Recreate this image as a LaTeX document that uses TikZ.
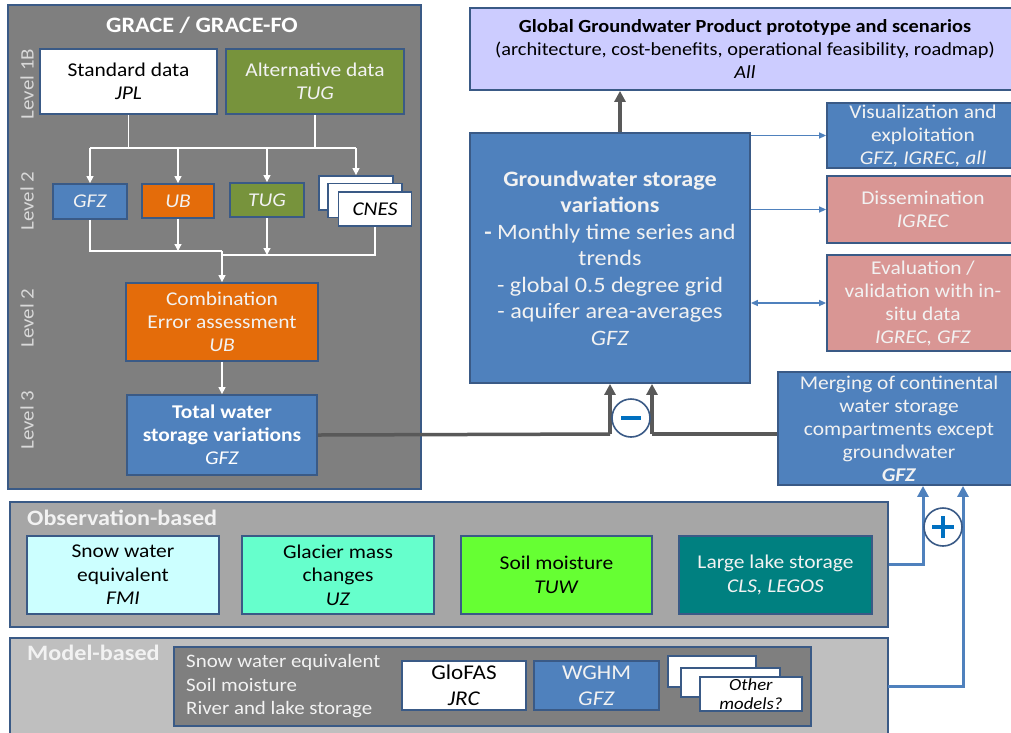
\documentclass[tikz,border=0pt]{standalone}
\usepackage{fontspec}
\setmainfont{Carlito}[FakeStretch=1.1]
\usetikzlibrary{arrows.meta}
\definecolor{bord}{HTML}{3A5A86}
\definecolor{cBlue}{HTML}{4F81BD}
\definecolor{cOrange}{HTML}{E46C0A}
\definecolor{cGreen}{HTML}{77933C}
\definecolor{cPink}{HTML}{D99694}
\definecolor{cLav}{HTML}{CCCCFF}
\definecolor{gDark}{HTML}{7F7F7F}
\definecolor{gMid}{HTML}{A6A6A6}
\definecolor{gLight}{HTML}{BFBFBF}
\definecolor{cCyan}{HTML}{CCFFFF}
\definecolor{cAqua}{HTML}{66FFCC}
\definecolor{cLime}{HTML}{66FF33}
\definecolor{cTeal}{HTML}{008080}
\definecolor{aGray}{HTML}{595959}
\definecolor{cSym}{HTML}{0070C0}
\definecolor{cLvl}{HTML}{D9D9D9}
\definecolor{cTxt}{HTML}{F2F2F2}
\begin{document}
\begin{tikzpicture}[x=1pt,y=-1pt,
  box/.style={draw=bord, line width=1.8pt, align=center, inner sep=0pt,
    font=\fontsize{19.5pt}{23pt}\selectfont},
  panel/.style={draw=bord, line width=1.8pt, inner sep=0pt},
  lvl/.style={rotate=90, text=cLvl, font=\fontsize{19pt}{22pt}\selectfont, inner sep=0pt},
  wline/.style={draw=white, line width=1.3pt},
  warr/.style={wline, -{Triangle[length=7pt,width=7pt]}},
  garr/.style={draw=aGray, line width=3.5pt, -{Triangle[length=11pt,width=11pt]}},
  gline/.style={draw=aGray, line width=3.5pt},
  barr/.style={draw=cBlue, line width=1.4pt, -{Triangle[length=7pt,width=6pt]}},
  bdarr/.style={draw=cBlue, line width=1.4pt, {Triangle[length=7pt,width=6pt]}-{Triangle[length=7pt,width=6pt]}},
  bthick/.style={draw=cBlue, line width=3pt, -{Triangle[length=11pt,width=11pt]}},
  circ/.style={circle, draw=bord, line width=1.6pt, fill=white, minimum size=38pt, inner sep=0pt},
  sym/.style={draw=cSym, line width=4.5pt},
]
\useasboundingbox (0,0) rectangle (1011,732);
\clip (0,0) rectangle (1011,732);
\fill[white] (0,0) rectangle (1011,732);

% ---------- GRACE panel ----------
\node[panel, fill=gDark, minimum width=413pt, minimum height=484pt] (grace) at (214.5,247) {};
\node[text=white, font=\bfseries\fontsize{22pt}{26pt}\selectfont, inner sep=0pt] (gtitle) at (202,25) {GRACE / GRACE-FO};
\node[lvl] (l1) at (27,84) {Level 1B};
\node[lvl] (l2) at (27,201) {Level 2};
\node[lvl] (l3) at (27,318) {Level 2};
\node[lvl] (l4) at (27,420) {Level 3};

\node[box, fill=white, minimum width=177pt, minimum height=65pt] (std) at (128.5,81.5) {Standard data\\\textit{JPL}};
\node[box, fill=cGreen, text=cTxt, minimum width=178pt, minimum height=65pt] (alt) at (315,81.5) {Alternative data\\\textit{TUG}};

\node[box, fill=cBlue, text=cTxt, minimum width=74pt, minimum height=35pt] (gfz) at (90,201.5) {\textit{GFZ}};
\node[box, fill=cOrange, text=cTxt, minimum width=72pt, minimum height=34pt] (ub) at (178,201) {\textit{UB}};
\node[box, fill=cGreen, text=cTxt, minimum width=74pt, minimum height=34pt] (tug) at (267,200) {\textit{TUG}};
\node[box, fill=white, minimum width=74pt, minimum height=34pt] (c1) at (356,193) {};
\node[box, fill=white, minimum width=74pt, minimum height=34pt] (c2) at (365,200.5) {};
\node[box, fill=white, minimum width=73pt, minimum height=34pt] (c3) at (375,209) {\textit{CNES}};

\node[box, fill=cOrange, text=cTxt, minimum width=192pt, minimum height=78pt] (comb) at (222,322) {Combination\\Error assessment\\\textit{UB}};
\node[box, fill=cBlue, text=white, minimum width=190pt, minimum height=80pt] (tws) at (222,435) {\textbf{Total water}\\\textbf{storage variations}\\\textit{GFZ}};

% white connectors
\coordinate (hl) at (90,148);
\coordinate (hr) at (356,148);
\draw[wline] (std.south) -- (std.south |- hl);
\draw[wline] (alt.south) -- (alt.south |- hl);
\draw[wline] (hl) -- (hr);
\draw[warr] (hl) -- (gfz.north);
\draw[warr] (ub.north |- hl) -- (ub.north);
\draw[warr] (tug.north |- hl) -- (tug.north);
\draw[warr] (hr) -- (c1.north);
\coordinate (ml) at (222,251);
\coordinate (mr) at (222,255);
\draw[wline] (gfz.south) -- (gfz.south |- ml) -- (ml);
\draw[wline] (c3.south) -- (c3.south |- mr) -- (mr);
\draw[warr] (ub.south) -- (ub.south |- ml);
\draw[warr] (tug.south) -- (tug.south |- mr);
\draw[warr] (ml) -- (comb.north);
\draw[warr] (comb.south) -- (tws.north);

% ---------- right part ----------
\node[box, fill=cLav, minimum width=550pt, minimum height=82pt, font=\fontsize{18.5pt}{23pt}\selectfont] (global) at (745,49)
  {\textbf{Global Groundwater Product prototype and scenarios}\\(architecture, cost-benefits, operational feasibility, roadmap)\\\textit{All}};
\node[box, fill=cBlue, text=cTxt, minimum width=280pt, minimum height=250pt,
  font=\fontsize{22pt}{26.5pt}\selectfont] (gw) at (610,258)
  {\textbf{Groundwater storage}\\\textbf{variations}\\\textbf{-} Monthly time series and\\trends\\- global 0.5 degree grid\\- aquifer area-averages\\\textit{GFZ}};
\node[box, fill=cBlue, text=cTxt, minimum width=192pt, minimum height=65pt] (vis) at (923,135.5) {Visualization and\\exploitation\\\textit{GFZ, IGREC, all}};
\node[box, fill=cPink, text=cTxt, minimum width=192pt, minimum height=67pt] (dis) at (923,209.5) {Dissemination\\\textit{IGREC}};
\node[box, fill=cPink, text=cTxt, minimum width=192pt, minimum height=96pt] (eval) at (923,303) {Evaluation /\\validation with in-\\situ data\\\textit{IGREC, GFZ}};
\node[box, fill=cBlue, text=cTxt, minimum width=242pt, minimum height=113pt] (merge) at (899,428.5) {Merging of continental\\water storage\\compartments except\\groundwater\\\textbf{\textit{GFZ}}};

\draw[garr] ([xshift=10pt]gw.north) -- ([xshift=10pt]gw.north |- global.south);
\draw[barr] (gw.east |- vis.west) -- (vis.west);
\draw[barr] (gw.east |- dis.west) -- (dis.west);
\draw[bdarr] (gw.east |- eval.west) -- (eval.west);

\coordinate (ga) at (610,434);
\coordinate (gb) at (652,434);
\draw[gline] (tws.east) -- (ga);
\draw[garr] (ga) -- (ga |- gw.south);
\draw[gline] ([yshift=-5.5pt]merge.west) -- (gb);
\draw[garr] (gb) -- (gb |- gw.south);
\node[circ] (minus) at (631,418) {};
\draw[sym] ([xshift=-10pt]minus.center) -- ([xshift=10pt]minus.center);

% ---------- observation-based ----------
\node[panel, fill=gMid, minimum width=878pt, minimum height=125pt] (obs) at (449,564.5) {};
\node[anchor=west, text=cTxt, font=\bfseries\fontsize{22pt}{24pt}\selectfont, inner sep=0pt] (obst) at (27,518) {Observation-based};
\node[box, fill=cCyan, minimum width=192pt, minimum height=78pt, font=\fontsize{19.5pt}{23.5pt}\selectfont] (snow) at (123,575) {Snow water\\equivalent\\\textit{FMI}};
\node[box, fill=cAqua, minimum width=192pt, minimum height=78pt, font=\fontsize{19.5pt}{23.5pt}\selectfont] (glac) at (338,575) {Glacier mass\\changes\\\textit{UZ}};
\node[box, fill=cLime, minimum width=191pt, minimum height=78pt, font=\fontsize{19.5pt}{24pt}\selectfont] (soil) at (556.5,575) {Soil moisture\\\textit{TUW}};
\node[box, fill=cTeal, text=cTxt, minimum width=193pt, minimum height=78pt, font=\fontsize{19.5pt}{24pt}\selectfont] (lake) at (775.5,575) {Large lake storage\\\textit{CLS, LEGOS}};

% ---------- model-based ----------
\node[panel, fill=gLight, minimum width=878pt, minimum height=102pt] (model) at (449,689) {};
\node[anchor=west, text=cTxt, font=\bfseries\fontsize{22pt}{24pt}\selectfont, inner sep=0pt] (modt) at (27,653) {Model-based};
\node[panel, fill=gDark, minimum width=637pt, minimum height=79pt] (inner) at (492.5,686.5) {};
\node[anchor=west, align=left, text=cTxt, inner sep=0pt, font=\fontsize{19pt}{23.5pt}\selectfont] (mtext) at (186,686.5) {Snow water equivalent\\Soil moisture\\River and lake storage};
\node[box, fill=white, minimum width=124pt, minimum height=49pt, font=\fontsize{21pt}{26pt}\selectfont] (glofas) at (464,685.5) {GloFAS\\\textit{JRC}};
\node[box, fill=cBlue, text=cTxt, minimum width=125pt, minimum height=49pt, font=\fontsize{21pt}{26pt}\selectfont] (wghm) at (596.5,685.5) {WGHM\\\textit{GFZ}};
\node[box, fill=white, minimum width=88pt, minimum height=31pt] (m1) at (712,671.5) {};
\node[box, fill=white, minimum width=99pt, minimum height=29pt] (m2) at (730.5,682.5) {};
\node[box, fill=white, minimum width=102pt, minimum height=34pt, font=\fontsize{17pt}{19.5pt}\selectfont] (m3) at (751,694) {\textit{Other}\\\textit{models?}};

% blue merge connectors
\coordinate (pa) at (923,0);
\coordinate (pb) at (963,0);
\coordinate (mo) at (888,686);
\draw[bthick] (obs.east) -- (obs.east -| pa) -- (pa |- merge.south);
\draw[bthick] (mo) -- (mo -| pb) -- (pb |- merge.south);
\node[circ] (plus) at (943,527) {};
\draw[sym] ([xshift=-11pt]plus.center) -- ([xshift=11pt]plus.center);
\draw[sym] ([yshift=-11pt]plus.center) -- ([yshift=11pt]plus.center);
\end{tikzpicture}
\end{document}
